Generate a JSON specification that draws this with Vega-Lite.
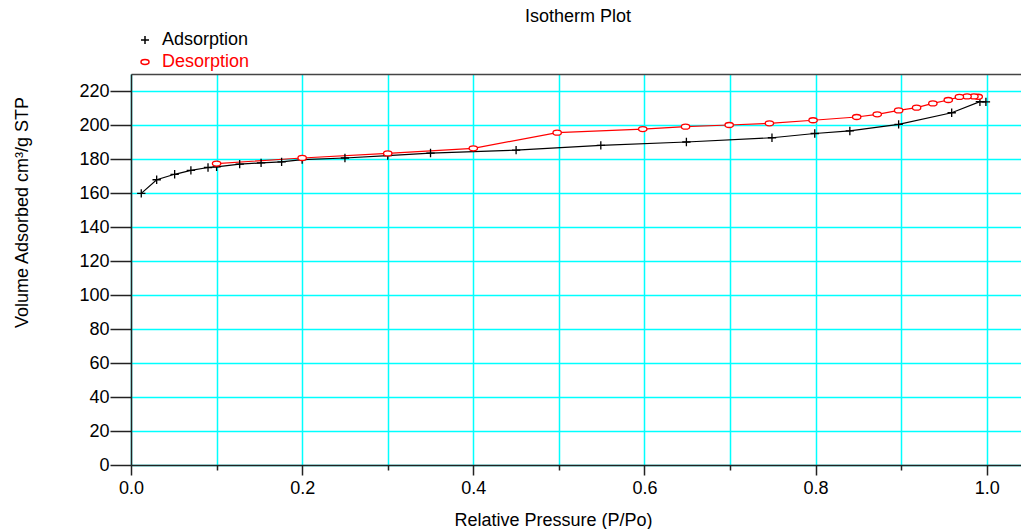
{
  "$schema": "https://vega.github.io/schema/vega-lite/v6.json",
  "width": 890,
  "height": 391,
  "autosize": {"type": "none"},
  "padding": {"left": 131, "top": 74, "right": 0, "bottom": 64},
  "background": "white",
  "title": {
    "text": "Isotherm Plot",
    "anchor": "middle",
    "frame": "group",
    "fontSize": 18,
    "font": "Liberation Sans",
    "fontWeight": "normal",
    "color": "#000000",
    "dx": 2,
    "offset": 5
  },
  "config": {
    "view": {"stroke": null},
    "font": "Liberation Sans",
    "legend": {
      "orient": "top",
      "direction": "vertical",
      "offset": 3,
      "padding": 0,
      "symbolOffset": 5,
      "labelFontSize": 18,
      "labelOffset": 8,
      "rowPadding": 4,
      "symbolStrokeWidth": 1.5,
      "symbolSize": 64,
      "titlePadding": 0
    }
  },
  "data": {
    "values": [
      {"series": "Adsorption", "p": 0.012, "v": 159.8},
      {"series": "Adsorption", "p": 0.03, "v": 167.8},
      {"series": "Adsorption", "p": 0.051, "v": 171.0},
      {"series": "Adsorption", "p": 0.07, "v": 173.3},
      {"series": "Adsorption", "p": 0.09, "v": 175.0},
      {"series": "Adsorption", "p": 0.1, "v": 175.4},
      {"series": "Adsorption", "p": 0.127, "v": 177.0},
      {"series": "Adsorption", "p": 0.152, "v": 177.7},
      {"series": "Adsorption", "p": 0.176, "v": 178.3},
      {"series": "Adsorption", "p": 0.2, "v": 179.6},
      {"series": "Adsorption", "p": 0.25, "v": 180.6},
      {"series": "Adsorption", "p": 0.3, "v": 182.0},
      {"series": "Adsorption", "p": 0.35, "v": 183.5},
      {"series": "Adsorption", "p": 0.45, "v": 185.2},
      {"series": "Adsorption", "p": 0.549, "v": 188.0},
      {"series": "Adsorption", "p": 0.649, "v": 190.0},
      {"series": "Adsorption", "p": 0.749, "v": 192.5},
      {"series": "Adsorption", "p": 0.799, "v": 195.0},
      {"series": "Adsorption", "p": 0.84, "v": 196.5},
      {"series": "Adsorption", "p": 0.897, "v": 200.4},
      {"series": "Adsorption", "p": 0.959, "v": 207.2},
      {"series": "Adsorption", "p": 0.992, "v": 213.7},
      {"series": "Adsorption", "p": 0.999, "v": 213.6},
      {"series": "Desorption", "p": 0.99, "v": 216.6},
      {"series": "Desorption", "p": 0.985, "v": 216.8},
      {"series": "Desorption", "p": 0.977, "v": 216.8},
      {"series": "Desorption", "p": 0.968, "v": 216.5},
      {"series": "Desorption", "p": 0.955, "v": 214.7},
      {"series": "Desorption", "p": 0.937, "v": 212.7},
      {"series": "Desorption", "p": 0.918, "v": 210.2},
      {"series": "Desorption", "p": 0.897, "v": 208.6},
      {"series": "Desorption", "p": 0.872, "v": 206.3},
      {"series": "Desorption", "p": 0.848, "v": 204.7},
      {"series": "Desorption", "p": 0.797, "v": 202.8},
      {"series": "Desorption", "p": 0.746, "v": 201.0},
      {"series": "Desorption", "p": 0.699, "v": 200.0},
      {"series": "Desorption", "p": 0.648, "v": 199.0},
      {"series": "Desorption", "p": 0.598, "v": 197.6},
      {"series": "Desorption", "p": 0.498, "v": 195.5},
      {"series": "Desorption", "p": 0.4, "v": 186.3},
      {"series": "Desorption", "p": 0.3, "v": 183.3},
      {"series": "Desorption", "p": 0.2, "v": 180.6},
      {"series": "Desorption", "p": 0.1, "v": 177.3}
    ]
  },
  "resolve": {"axis": {"x": "independent", "y": "independent"}},
  "layer": [
    {
      "mark": {"type": "line", "strokeWidth": 1.2, "interpolate": "linear"},
      "encoding": {
        "x": {
          "field": "p", "type": "quantitative",
          "scale": {"domain": [0, 1.04], "nice": false, "zero": false},
          "axis": {
            "orient": "bottom",
            "values": [0, 0.1, 0.2, 0.3, 0.4, 0.5, 0.6, 0.7, 0.8, 0.9, 1.0],
            "labelExpr": "round(datum.value*10) % 2 === 0 ? format(datum.value, '.1f') : ''",
            "grid": true,
            "gridColor": "#00ffff",
            "gridWidth": 1.5,
            "gridOpacity": 1,
            "domainColor": "#222222",
            "domainWidth": 1.5,
            "tickColor": "#222222",
            "tickWidth": 1.5,
            "tickSize": {"condition": {"test": "round(datum.value*10) % 2 === 0", "value": 10}, "value": 5},
            "labelPadding": 4,
            "labelFontSize": 18,
            "labelColor": "#000000",
            "labelFlush": false,
            "labelOverlap": false,
            "title": "Relative Pressure (P/Po)",
            "titleFontSize": 18,
            "titleFontWeight": "normal",
            "titleColor": "#000000",
            "titleX": 422,
            "titleY": 55,
            "titleAnchor": null,
            "titleAlign": "center",
            "titleBaseline": "middle"
          }
        },
        "y": {
          "field": "v", "type": "quantitative",
          "scale": {"domain": [0, 230], "nice": false},
          "axis": {
            "values": [0, 20, 40, 60, 80, 100, 120, 140, 160, 180, 200, 220],
            "grid": true,
            "gridColor": "#00ffff",
            "gridWidth": 1.5,
            "gridOpacity": 1,
            "domainColor": "#222222",
            "domainWidth": 1.5,
            "tickColor": "#222222",
            "tickWidth": 1.5,
            "tickSize": 21,
            "labelPadding": 1,
            "labelFontSize": 18,
            "labelColor": "#000000",
            "labelFlush": false,
            "labelOverlap": false,
            "title": "Volume Adsorbed cm³/g STP",
            "titleFontSize": 18,
            "titleFontWeight": "normal",
            "titleColor": "#000000",
            "titleX": -109,
            "titleY": 138,
            "titleAngle": -90,
            "titleAnchor": null,
            "titleAlign": "center",
            "titleBaseline": "middle"
          }
        },
        "detail": {"field": "series", "type": "nominal"},
        "stroke": {
          "condition": {"test": "datum.series === 'Desorption'", "value": "#ff0000"},
          "value": "#000000"
        },
        "order": {"field": "p", "type": "quantitative"}
      }
    },
    {
      "mark": {"type": "point", "filled": false, "fill": "white", "fillOpacity": 1, "strokeWidth": 1.3, "opacity": 1, "size": 70},
      "encoding": {
        "x": {
          "field": "p", "type": "quantitative",
          "scale": {"domain": [0, 1.04], "nice": false, "zero": false},
          "axis": {
            "orient": "top", "labels": false, "ticks": false, "grid": false, "title": null,
            "domain": true, "domainColor": "#444444", "domainWidth": 1.5
          }
        },
        "y": {
          "field": "v", "type": "quantitative",
          "scale": {"domain": [0, 230], "nice": false},
          "axis": null
        },
        "color": {
          "field": "series", "type": "nominal",
          "scale": {"domain": ["Adsorption", "Desorption"], "range": ["#000000", "#ff0000"]},
          "legend": {
            "title": null,
            "labelColor": {"expr": "datum.value === 'Desorption' ? '#ff0000' : '#000000'"}
          }
        },
        "shape": {
          "field": "series", "type": "nominal",
          "scale": {
            "domain": ["Adsorption", "Desorption"],
            "range": ["M-1,0L1,0M0,-1L0,1", "M-1,0A1,0.6 0 1,1 1,0A1,0.6 0 1,1 -1,0Z"]
          },
          "legend": {
            "title": null,
            "labelColor": {"expr": "datum.value === 'Desorption' ? '#ff0000' : '#000000'"}
          }
        }
      }
    }
  ]
}
